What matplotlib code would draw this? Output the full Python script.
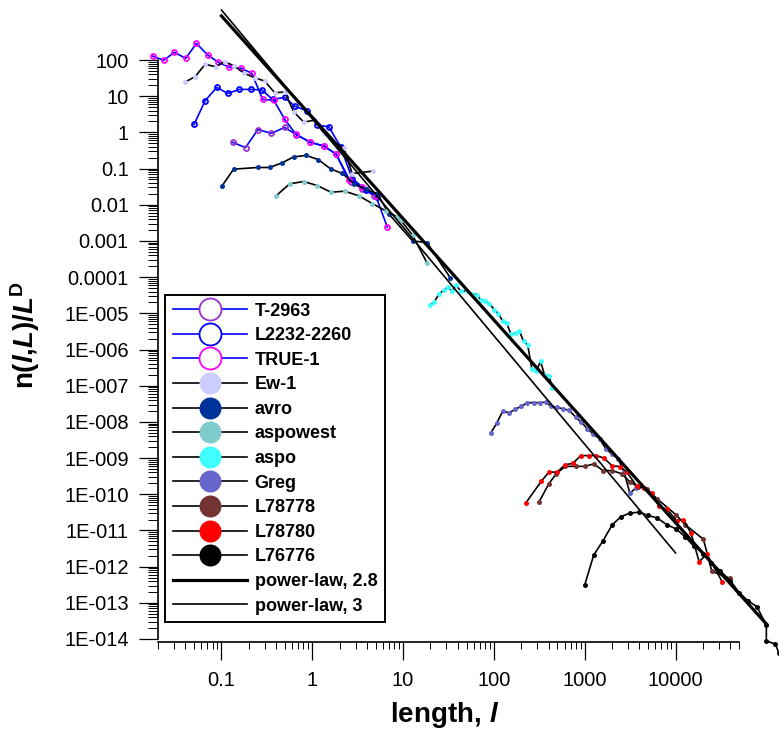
import numpy as np
import matplotlib
matplotlib.use('Agg')
import matplotlib.pyplot as plt
from matplotlib.ticker import FixedLocator, FuncFormatter, LogLocator, NullFormatter

plt.rcParams['font.family'] = 'Liberation Sans'
plt.rcParams['mathtext.fontset'] = 'custom'
plt.rcParams['mathtext.rm'] = 'Liberation Sans'
plt.rcParams['mathtext.bf'] = 'Liberation Sans:bold'
plt.rcParams['mathtext.it'] = 'Liberation Sans:italic'
plt.rcParams['mathtext.bfit'] = 'Liberation Sans:bold:italic'

# данные
t2963_x = [0.133, 0.184, 0.252, 0.354, 0.497, 0.668, 0.955, 1.34, 1.83, 2.64, 3.56, 4.79]
t2963_y = [0.53, 0.38, 1.2, 0.94, 1.37, 0.86, 0.53, 0.42, 0.25, 0.043, 0.028, 0.018]

l2232_x = [0.0499, 0.0661, 0.0887, 0.1175, 0.157, 0.211, 0.279, 0.366, 0.497, 0.641, 0.877,
           1.13, 1.52, 2.05, 2.75, 3.87, 5.2]
l2232_y = [1.66, 7.5, 17.5, 11.9, 15.4, 15.4, 14.8, 8.1, 9.3, 5.3, 3.9, 1.59, 1.43, 0.40,
           0.053, 0.026, 0.0165]

true1_x = [0.0174, 0.0231, 0.0303, 0.0404, 0.053, 0.0706, 0.0927, 0.1225, 0.164, 0.216, 0.284,
           0.376, 0.497, 0.662, 0.955, 1.34, 1.83, 2.53, 3.56, 4.99, 6.71]
true1_y = [129, 98, 163, 111, 289, 137, 86, 63, 59, 43, 8.1, 7.8, 2.3, 0.88, 0.53, 0.42, 0.25,
           0.048, 0.031, 0.018, 0.0024]

ew1_x = [0.0397, 0.0512, 0.0661, 0.0865, 0.108, 0.139, 0.179, 0.232, 0.299, 0.385, 0.497,
         0.625, 0.805, 1.08, 1.34, 1.73, 2.23, 2.75, 4.67]
ew1_y = [24.6, 34.6, 75.9, 65.3, 90, 68.2, 42.8, 32.4, 26.2, 12.5, 13.0, 3.7, 1.92, 2.19,
         0.94, 0.55, 0.36, 0.073, 0.085]

avro_x = [0.101, 0.136, 0.252, 0.339, 0.465, 0.625, 0.855, 1.16, 1.59, 2.14, 2.88, 3.87,
          5.2, 7.0, 12.7, 18.3, 33]
avro_y = [0.0326, 0.0964, 0.107, 0.107, 0.144, 0.211, 0.230, 0.178, 0.0984, 0.0731, 0.0386,
          0.0264, 0.0204, 0.0055, 0.001, 0.0009, 9.7e-5]

aspowest_x = [0.398, 0.564, 0.805, 1.13, 1.61, 2.27, 3.27, 4.58, 6.44, 8.65, 9.44, 12.7, 18.3]
aspowest_y = [0.0176, 0.0379, 0.0439, 0.034, 0.0222, 0.0237, 0.0176, 0.0108, 0.0068, 0.0046,
              0.0037, 0.00145, 0.00025]

aspo_x = [19.9, 22.0, 25.0, 27.9, 30.9, 34.5, 38.2, 43.4, 50.1, 57.4, 64.6, 72.2, 80.5, 89.2,
          101, 112, 125, 138, 155, 173, 191, 212, 236, 262, 293, 326, 361, 403, 440]
aspo_y = [1.74e-5, 2.05e-5, 3.5e-5, 4.3e-5, 5.3e-5, 4.1e-5, 5.9e-5, 4.1e-5, 4.1e-5, 3.5e-5,
          3.3e-5, 2.3e-5, 2.2e-5, 1.85e-5, 1.26e-5, 9.8e-6, 6.1e-6, 5.4e-6, 2.6e-6, 2.9e-6,
          3.2e-6, 1.7e-6, 1.3e-6, 2.9e-7, 2.5e-7, 4.7e-7, 2.0e-7, 1.9e-7, 8.8e-8]

greg_x = [92.2, 108, 125, 146, 171, 200, 233, 273, 318, 371, 428, 499, 575, 671, 795, 918,
          1071, 1234, 1464, 1706, 2004, 2333, 2717, 3142, 3662]
greg_y = [4.9e-9, 9.4e-9, 1.98e-8, 1.79e-8, 2.2e-8, 2.7e-8, 3.4e-8, 3.4e-8, 3.4e-8, 3.5e-8,
          2.7e-8, 2.5e-8, 2.3e-8, 2.1e-8, 1.35e-8, 9.8e-9, 6.4e-9, 4.7e-9, 3.4e-9, 1.8e-9,
          1.3e-9, 9.5e-10, 4.1e-10, 1.06e-10, 1.5e-10]

l78778_x = [313, 400, 486, 612, 795, 1000, 1257, 1592, 2004, 2545, 3142, 3882, 4808, 6295,
            10140, 12740, 20280, 25120, 40000]
l78778_y = [6.0e-11, 1.9e-10, 3.7e-10, 5.9e-10, 5.9e-10, 5.9e-10, 6.9e-10, 4.5e-10, 4.5e-10,
            3.7e-10, 2.2e-10, 1.6e-10, 1.4e-10, 7.4e-11, 2.7e-11, 1.45e-11, 5.7e-12, 7.4e-13,
            4.7e-13]

l78780_x = [223, 333, 404, 494, 612, 743, 904, 1107, 1346, 1633, 2004, 2438, 2890, 3724, 4519,
            5457, 6622, 8110, 10300, 12190, 14830, 18200, 22130, 32900]
l78780_y = [5.6e-11, 2.3e-10, 4.1e-10, 4.1e-10, 6.5e-10, 7.2e-10, 1.17e-9, 1.17e-9, 1.17e-9,
            9.9e-10, 6.1e-10, 5.8e-10, 4.2e-10, 1.7e-10, 1.5e-10, 1.06e-10, 4.6e-11, 3.8e-11,
            1.87e-11, 2.0e-11, 8.3e-12, 1.37e-12, 2.2e-12, 3.7e-13]

l76776_x = [1000, 1257, 1592, 2004, 2500, 3142, 3953, 5012, 6295, 7998, 10140, 12740, 16030,
            20140, 24660, 31040, 40000, 50350, 62800, 78900, 100000, 100000, 125900, 136800]
l76776_y = [3.1e-13, 2.1e-12, 5.2e-12, 1.42e-11, 2.4e-11, 3.0e-11, 3.2e-11, 2.6e-11, 2.2e-11,
            1.45e-11, 1.1e-11, 6.7e-12, 3.6e-12, 2.3e-12, 1.3e-12, 7.7e-13, 4.1e-13, 1.9e-13,
            1.14e-13, 7.8e-14, 2.4e-14, 8.9e-15, 7.2e-15, 4.2e-15]

# степенные законы (концы линий)
pl28_x = [0.1, 1e5]
pl28_y = [1650, 2.6e-14]
pl3_x = [0.1, 1e4]
pl3_y = [2400, 2.4e-12]

x_ticks = [0.1, 1, 10, 100, 1000, 10000]
y_ticks = [10.0 ** k for k in range(2, -15, -1)]

fig = plt.figure(figsize=(7.79, 7.33), dpi=100)
ax = fig.add_axes([158 / 779, 1 - 639 / 733, 581 / 779, 579 / 733])
ax.set_xscale('log')
ax.set_yscale('log')
ax.set_xlim(0.02, 50000)
ax.set_ylim(1e-14, 100)

open_series = [
    (t2963_x, t2963_y, '#9933CC', 'T-2963'),
    (l2232_x, l2232_y, '#0000FF', 'L2232-2260'),
    (true1_x, true1_y, '#FF00FF', 'TRUE-1'),
]
for xs, ys, c, name in open_series:
    ax.plot(xs, ys, color='#0000FF', lw=1.2, marker='o', ms=3.6, mfc='none', mec=c, mew=1.3,
            label=name, clip_on=False)

filled_series = [
    (ew1_x, ew1_y, '#CCCCFF', 'Ew-1'),
    (avro_x, avro_y, '#003399', 'avro'),
    (aspowest_x, aspowest_y, '#80CCCC', 'aspowest'),
    (aspo_x, aspo_y, '#40FFFF', 'aspo'),
    (greg_x, greg_y, '#6666CC', 'Greg'),
    (l78778_x, l78778_y, '#733333', 'L78778'),
    (l78780_x, l78780_y, '#FF0000', 'L78780'),
    (l76776_x, l76776_y, '#000000', 'L76776'),
]
for xs, ys, c, name in filled_series:
    ax.plot(xs, ys, color='black', lw=1.2, marker='o', ms=3.6, mfc=c, mec=c, mew=0,
            label=name, clip_on=False)

ax.plot(pl28_x, pl28_y, color='black', lw=2.3, label='power-law, 2.8', clip_on=False, zorder=3)
ax.plot(pl3_x, pl3_y, color='black', lw=1.2, label='power-law, 3', clip_on=False, zorder=3)

# оси
for s in ['top', 'right']:
    ax.spines[s].set_visible(False)
ax.spines['left'].set_linewidth(1.2)
ax.spines['bottom'].set_linewidth(1.2)
ax.spines['bottom'].set_position(('outward', 2))

ax.xaxis.set_major_locator(FixedLocator(x_ticks))
ax.yaxis.set_major_locator(FixedLocator(y_ticks))
ax.xaxis.set_minor_locator(LogLocator(base=10, subs=np.arange(2, 10), numticks=100))
ax.yaxis.set_minor_locator(LogLocator(base=10, subs=np.arange(2, 10), numticks=100))
ax.xaxis.set_minor_formatter(NullFormatter())
ax.yaxis.set_minor_formatter(NullFormatter())


def xfmt(v, pos):
    k = int(round(np.log10(v)))
    return f'{v:.{max(0, -k)}f}'


def yfmt(v, pos):
    k = int(round(np.log10(v)))
    if k >= -4:
        return f'{v:.{max(0, -k)}f}'
    return f'1E-{-k:03d}'


ax.xaxis.set_major_formatter(FuncFormatter(xfmt))
ax.yaxis.set_major_formatter(FuncFormatter(yfmt))
ax.tick_params(axis='y', which='major', direction='out', length=14, width=0.9, labelsize=14.5, pad=7)
ax.tick_params(axis='y', which='minor', direction='out', length=7, width=0.7)
ax.tick_params(axis='x', which='major', direction='out', length=13, width=0.9, labelsize=14.5, pad=8)
ax.tick_params(axis='x', which='minor', direction='out', length=5, width=0.7)

ax.set_xlabel(r'$\mathbf{length,}\,\mathbfit{l}$', fontsize=20)
ax.set_ylabel(r'$\mathbf{n(}\mathbfit{l}\mathbf{,}\mathbfit{L}\mathbf{)/}\mathbfit{L}^{\mathbf{D}}$',
              fontsize=20)
ax.xaxis.set_label_coords(0.494, -0.105)
ax.yaxis.set_label_coords(-0.2, 0.525)

leg = ax.legend(loc='upper left', bbox_to_anchor=(165 / 779, 1 - 295 / 733),
                bbox_transform=fig.transFigure, borderaxespad=0, markerscale=4.4,
                prop={'weight': 'bold', 'size': 13}, labelspacing=0.42, handlelength=4.1,
                handletextpad=0.45, borderpad=0.42, fancybox=False, framealpha=1,
                edgecolor='black')
leg.get_frame().set_linewidth(1.4)
for h in leg.legend_handles[:3]:
    h.set_markerfacecolor('white')

fig.savefig('out.png', dpi=100)
